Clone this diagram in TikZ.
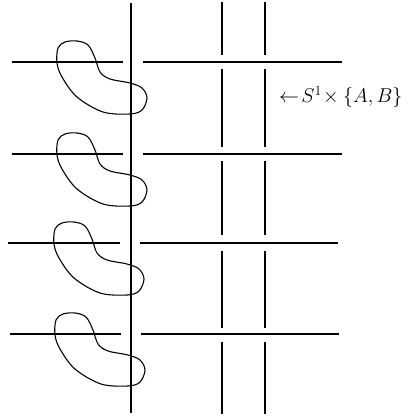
\documentclass[tikz,border=0pt]{standalone}
\usepackage{fix-cm}
\usepackage{amsmath}
\usetikzlibrary{positioning}

\begin{document}
\begin{tikzpicture}[x=1pt,y=-1pt,
  axis/.style={line width=1.4pt},
  sheet/.style={line width=1.1pt},
  bean/.style={line width=1.1pt,tension=0.55},
  lbl/.style={inner sep=0pt,font=\fontsize{20}{24}\selectfont}]
\useasboundingbox (0,0) rectangle (411,417);
% the long strand
\draw[axis] (131,3) -- (131,413);
% the two parallel strands, broken at each level
\foreach \x in {222,265}{
  \draw[sheet] (\x,2) -- (\x,55);
  \draw[sheet] (\x,69) -- (\x,147);
  \draw[sheet] (\x,161) -- (\x,235);
  \draw[sheet] (\x,251) -- (\x,328);
  \draw[sheet] (\x,342) -- (\x,414);
}
% levels: horizontal line and bean
\foreach \h/\l/\r/\dx in {62/12/342/0, 154/12/342/0, 243/8/338/-3, 334/10/339/-2}{
  \draw[sheet] (\l,\h) -- (123+\dx,\h);
  \draw[sheet] (143+\dx,\h) -- (\r,\h);
  \begin{scope}[shift={(131+\dx,\h)}]
  \draw[bean] plot[smooth cycle] coordinates {
    (-54,-21) (-43,-17) (-36,-4) (-31,10) (-21,17) (-1,21) (11,26)
    (16,36) (11,48) (-1,52) (-28,50) (-54,35) (-69,15) (-74,1)
    (-73,-14) (-66,-20)};
  \end{scope}
}
% label
\node[lbl,anchor=west] (prod) at (279,97) {$\leftarrow\! S^{1}\!\times\{A,B\}$};
\end{tikzpicture}
\end{document}
